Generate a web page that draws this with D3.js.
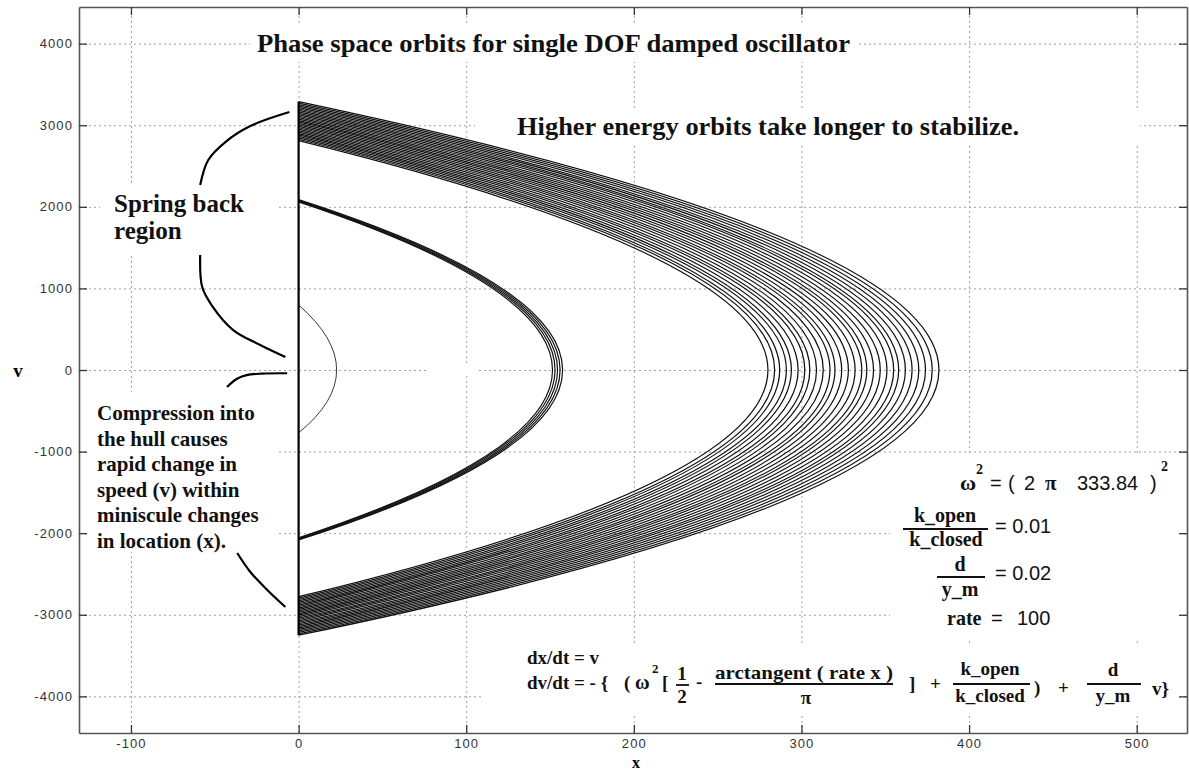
<!DOCTYPE html>
<html><head><meta charset="utf-8">
<script src="https://cdn.jsdelivr.net/npm/d3@7"></script>
<style>body{margin:0;background:#fff}</style>
</head><body>
<svg id="c" width="1189" height="773"></svg>
<script>
// ---------- data ----------
const xTicks = [-100, 0, 100, 200, 300, 400, 500];
const yTicks = [-4000, -3000, -2000, -1000, 0, 1000, 2000, 3000, 4000];
const xDomain = [-131, 530];
const yDomain = [-4449, 4449];

// outer (high energy) orbit band: velocity at x=0 going out, apex x, velocity at x=0 coming back
const bandTop  = [3288, 3270, 3252, 3234, 3216, 3199, 3181, 3163, 3146, 3128, 3110, 3093, 3075, 3057, 3040, 3022, 3004, 2987, 2969, 2951, 2934, 2916, 2898, 2881, 2863, 2845, 2828, 2810];
const bandApex = [382, 378, 374, 370, 366, 362, 358, 355, 351, 347, 343, 339, 336, 332, 328, 324, 320, 317, 313, 309, 305, 302, 298, 294, 291, 287, 284, 280];
const bandBot  = [-3250, -3233, -3215, -3198, -3180, -3163, -3145, -3128, -3110, -3093, -3075, -3058, -3040, -3023, -3005, -2988, -2970, -2953, -2935, -2918, -2900, -2883, -2865, -2848, -2830, -2813, -2795, -2778];

// middle orbit (several nearly coincident turns)
const midTop  = [2088, 2081, 2074, 2067, 2060];
const midApex = [157.5, 156, 154.5, 153, 151.5];
const midBot  = [-2084, -2077, -2070, -2063, -2056];

// inner (low energy) orbit
const innerTop  = [797];
const innerApex = [22.7];
const innerBot  = [-770];

// annotation braces (data units: x, v)
const springUpper = [[-5.5, 3162], [-28.8, 2990], [-43.7, 2794], [-53.9, 2574], [-58.7, 2267]];
const springLower = [[-58.7, 1409], [-57.5, 1017], [-51.5, 784], [-39, 490], [-22.9, 306], [-7.9, 159]];
const compUpper   = [[-6.8, -40], [-22, -44], [-31, -62], [-37, -110], [-42.7, -208]];
const compLower   = [[-36.6, -2243], [-28.8, -2475], [-18.7, -2696], [-7.9, -2904]];

const titleText  = "Phase space orbits for single DOF damped oscillator";
const noteText   = "Higher energy orbits take longer to stabilize.";
const springText = ["Spring back", "region"];
const compText   = ["Compression into", "the hull causes", "rapid change in", "speed (v) within", "miniscule changes", "in location (x)."];

// ---------- layout ----------
const L = 79, R = 1187, T = 7, B = 733;
const SERIF = "'Liberation Serif','Times New Roman',serif";
const SANS = "'Liberation Sans',Arial,sans-serif";
const svg = d3.select("#c");
const x = d3.scaleLinear().domain(xDomain).range([L, R]);
const y = d3.scaleLinear().domain(yDomain).range([B, T]);

// grid
svg.append("g").attr("transform", `translate(0,${B})`)
  .call(d3.axisBottom(x).tickValues(xTicks).tickSize(-(B - T)).tickFormat(""))
  .call(g => { g.select(".domain").remove(); g.selectAll("line").attr("stroke", "#a0a0a0").attr("stroke-dasharray", "2,3"); });
svg.append("g").attr("transform", `translate(${L},0)`)
  .call(d3.axisLeft(y).tickValues(yTicks).tickSize(-(R - L)).tickFormat(""))
  .call(g => { g.select(".domain").remove(); g.selectAll("line").attr("stroke", "#a0a0a0").attr("stroke-dasharray", "2,3"); });

// white backgrounds of text boxes (they hide the grid)
const boxes = [[250, 26, 858, 62], [475, 110, 1140, 143], [100, 185, 278, 254], [88, 392, 278, 552],
               [427, 364, 477, 376], [890, 455, 1180, 640], [482, 643, 1180, 716]];
svg.append("g").selectAll("rect").data(boxes).join("rect")
  .attr("x", d => d[0]).attr("y", d => d[1]).attr("width", d => d[2] - d[0]).attr("height", d => d[3] - d[1])
  .attr("fill", "#fff");

// orbits
function orbit(vt, xa, vb) {
  const p = d3.path();
  p.moveTo(x(0), y(vt));
  p.quadraticCurveTo(x(2 * xa), y(-(vt + vb) / 2), x(0), y(vb));
  return p.toString();
}
function drawSet(tops, apexes, bots, color, width) {
  svg.append("g").selectAll("path").data(tops).join("path")
    .attr("d", (d, i) => orbit(d, apexes[i], bots[i]))
    .attr("fill", "none").attr("stroke", color).attr("stroke-width", width);
}
drawSet(bandTop, bandApex, bandBot, "#101010", 1.25);
drawSet(midTop, midApex, midBot, "#111", 1.2);
drawSet(innerTop, innerApex, innerBot, "#3a3a3a", 1);

// compression branch at x = 0
const allV = bandTop.concat(bandBot);
svg.append("line").attr("x1", x(0)).attr("x2", x(0))
  .attr("y1", y(d3.max(allV))).attr("y2", y(d3.min(allV)))
  .attr("stroke", "#000").attr("stroke-width", 2.2);

// braces
const brace = d3.line().x(d => x(d[0])).y(d => y(d[1])).curve(d3.curveCatmullRom);
[springUpper, springLower, compUpper, compLower].forEach(pts => {
  svg.append("path").attr("d", brace(pts)).attr("fill", "none").attr("stroke", "#000").attr("stroke-width", 2.2);
});

// axes with inward ticks
function styleAxis(g) {
  g.select(".domain").attr("stroke", "#555").attr("stroke-width", 1.6);
  g.selectAll(".tick line").attr("stroke", "#333").attr("stroke-width", 1.3);
  g.selectAll("text").attr("font-family", SANS).attr("font-size", 13).attr("fill", "#333").attr("letter-spacing", 1.1);
}
svg.append("g").attr("transform", `translate(0,${B})`)
  .call(d3.axisBottom(x).tickValues(xTicks).tickSize(-8).tickSizeOuter(0).tickPadding(6).tickFormat(d => String(d))).call(styleAxis);
svg.append("g").attr("transform", `translate(0,${T})`)
  .call(d3.axisTop(x).tickValues(xTicks).tickSize(-8).tickSizeOuter(0).tickFormat("")).call(styleAxis);
svg.append("g").attr("transform", `translate(${L},0)`)
  .call(d3.axisLeft(y).tickValues(yTicks).tickSize(-8).tickSizeOuter(0).tickPadding(6).tickFormat(d => String(d))).call(styleAxis);
svg.append("g").attr("transform", `translate(${R},0)`)
  .call(d3.axisRight(y).tickValues(yTicks).tickSize(-8).tickSizeOuter(0).tickFormat("")).call(styleAxis);

// axis labels
svg.append("text").attr("x", (L + R) / 2 + 3).attr("y", 768).attr("text-anchor", "middle")
  .attr("font-family", SERIF).attr("font-weight", "bold").attr("font-size", 16).text("x");
svg.append("text").attr("x", 18).attr("y", 377).attr("text-anchor", "middle")
  .attr("font-family", SERIF).attr("font-weight", "bold").attr("font-size", 19).text("v");

// text helper
function txt(s, px, py, o = {}) {
  const t = svg.append("text").attr("x", px).attr("y", py)
    .attr("font-family", o.sans ? SANS : SERIF).attr("font-weight", o.sans ? "normal" : "bold")
    .attr("font-size", o.size || 20).attr("fill", "#111")
    .attr("text-anchor", o.anchor || "start").text(s);
  if (o.len) t.attr("textLength", o.len).attr("lengthAdjust", "spacingAndGlyphs");
  return t;
}
function bar(x1, x2, yy) {
  svg.append("line").attr("x1", x1).attr("x2", x2).attr("y1", yy).attr("y2", yy).attr("stroke", "#111").attr("stroke-width", 1.8);
}

txt(titleText, 257, 52, { size: 26, len: 593 });
txt(noteText, 517, 135, { size: 26, len: 502 });
springText.forEach((s, i) => txt(s, 114, 212 + i * 27, { size: 25 }));
compText.forEach((s, i) => txt(s, 97, 420 + i * 25.6, { size: 21 }));

// parameter block
txt("ω", 960, 490, { size: 22 });
txt("2", 976, 474, { size: 14 });
txt("=", 990, 490, { sans: true });
txt("(", 1008, 490, { sans: true });
txt("2", 1024, 490, { sans: true });
txt("π", 1045, 490, { size: 21 });
txt("333.84", 1077, 490, { sans: true });
txt(")", 1150, 490, { sans: true });
txt("2", 1161, 471, { size: 14 });

txt("k_open", 945, 522, { anchor: "middle" });
bar(903, 988, 529);
txt("k_closed", 946, 546, { anchor: "middle" });
txt("= 0.01", 995, 533, { sans: true });

txt("d", 960, 571, { anchor: "middle" });
bar(937, 985, 577);
txt("y_m", 960, 596, { anchor: "middle" });
txt("= 0.02", 995, 580, { sans: true });

txt("rate", 947, 625);
txt("=", 991, 625, { sans: true });
txt("100", 1017, 625, { sans: true });

// equations
txt("dx/dt = v", 527, 664, { size: 19 });
txt("dv/dt = - {", 527, 689, { size: 19 });
txt("(", 624, 689, { size: 19 });
txt("ω", 635, 689, { size: 20 });
txt("2", 652, 673, { size: 13 });
txt("[", 662, 689, { size: 19 });
txt("1", 682, 680, { size: 19, anchor: "middle" });
bar(676, 689, 685);
txt("2", 682, 703, { size: 19, anchor: "middle" });
txt("-", 696, 688, { size: 19 });
txt("arctangent ( rate x )", 715, 679, { size: 19, len: 178 });
bar(715, 893, 684);
txt("π", 806, 704, { size: 19, anchor: "middle" });
txt("]", 909, 690, { size: 19 });
txt("+", 930, 690, { size: 19 });
txt("k_open", 990, 675, { size: 19, anchor: "middle" });
bar(953, 1030, 684);
txt("k_closed", 990, 702, { size: 19, anchor: "middle" });
txt(")", 1034, 694, { size: 19 });
txt("+", 1058, 694, { size: 19 });
txt("d", 1113, 676, { size: 19, anchor: "middle" });
bar(1087, 1141, 684);
txt("y_m", 1113, 702, { size: 19, anchor: "middle" });
txt("v}", 1152, 695, { size: 19 });
</script>
</body></html>
